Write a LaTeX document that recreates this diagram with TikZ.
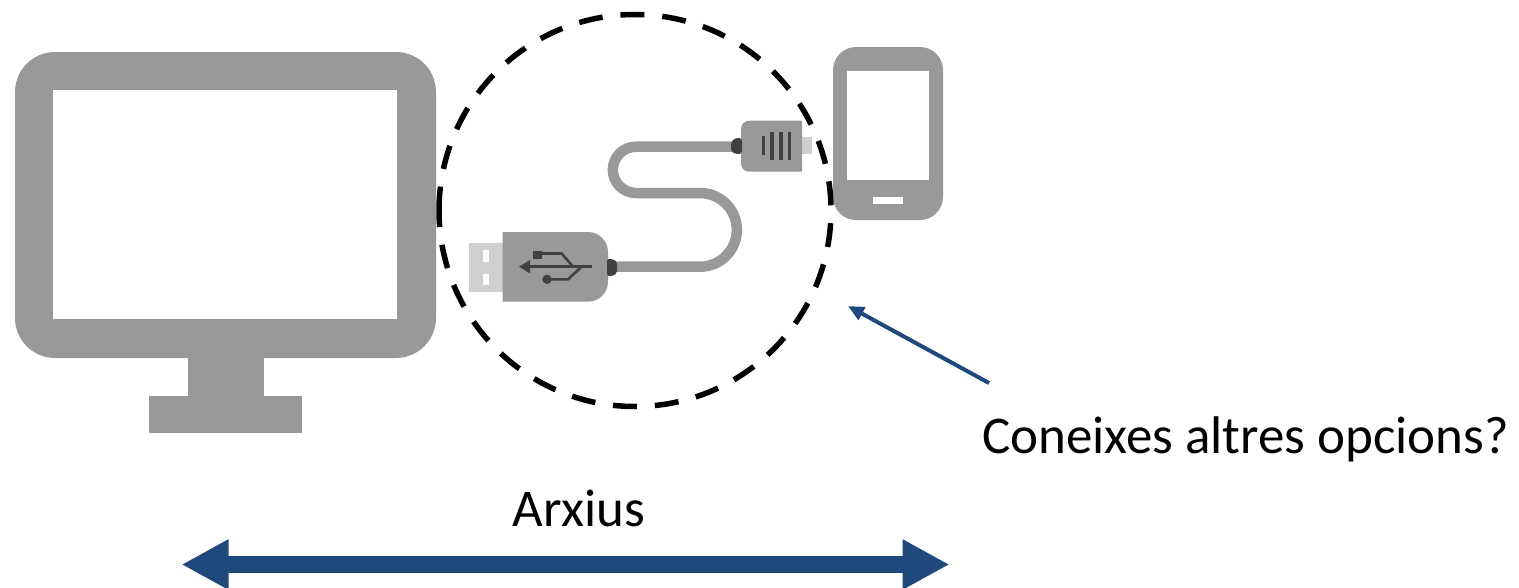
\documentclass[tikz,border=0pt]{standalone}
\usepackage{fontspec}
\setmainfont{Carlito}
\usetikzlibrary{arrows.meta}
\definecolor{devgray}{HTML}{999999}
\definecolor{plug}{HTML}{D0CFCD}
\definecolor{darkg}{HTML}{404040}
\definecolor{navy}{HTML}{1F497D}
\tikzset{
  device/.style={fill=devgray,draw=none},
  hole/.style={fill=white,draw=none},
  darkpart/.style={fill=darkg,draw=none},
  cable/.style={draw=devgray,line width=10.5pt},
  symline/.style={draw=darkg,line width=2.6pt},
  label/.style={font=\fontsize{53}{60}\selectfont,text=black,inner sep=0pt},
}
\begin{document}
\begin{tikzpicture}[x=1pt,y=-1pt]
\useasboundingbox (0,0) rectangle (1519,587);
% monitor
\fill[device] (188,350) rectangle (264,400);
\fill[device] (149,396) rectangle (302,433);
\fill[device,rounded corners=40pt] (15,52) rectangle (436,358);
\fill[hole] (53,90) rectangle (397,319);
% phone
\fill[device,rounded corners=23pt] (833,47) rectangle (943,220);
\fill[hole] (847,71) rectangle (929,180);
\fill[hole] (873,197) rectangle (903,204);
% cable
\draw[cable] (735,146.7) -- (636,146.7) arc[start angle=90,end angle=270,radius=23.15pt]
  -- (700,193) arc[start angle=90,end angle=-90,radius=36.85pt] -- (612,266.7);
% micro plug
\fill[plug] (800,137) rectangle (812,154);
\fill[device] (802,120.7) -- (749,120.7) arc[start angle=90,end angle=180,radius=8pt] -- (741,163.7) arc[start angle=180,end angle=270,radius=8pt] -- (802,171.7) -- cycle;
\fill[darkpart,rounded corners=3pt] (742,138) -- (735,138) -- (731,142) -- (731,151) -- (735,154) -- (742,154) -- cycle;
\fill[darkg] (761.5,136) rectangle (765,155);
\fill[darkg] (770,132) rectangle (774,160);
\fill[darkg] (779,132) rectangle (782.5,160);
\fill[darkg] (787.5,132) rectangle (791,160);
% usb plug
\fill[plug] (469,242.7) rectangle (505,291.7);
\fill[hole] (482.7,250) rectangle (489.3,261.7);
\fill[hole] (482.7,274) rectangle (489.3,285);
\fill[device] (502.7,232) -- (588,232) arc[start angle=90,end angle=0,radius=20pt] -- (608,281.7) arc[start angle=0,end angle=-90,radius=20pt] -- (502.7,301.7) -- cycle;
\fill[darkpart,rounded corners=2pt] (607,259) -- (613,259) -- (617,262) -- (617,273) -- (613,276) -- (607,276) -- cycle;
% usb symbol
\draw[symline] (525,266.7) -- (592,266.7);
\fill[darkg] (519,266.7) -- (530,260) -- (530,273.4) -- cycle;
\fill[darkg] (533,250.7) rectangle (542,259.3);
\draw[symline] (541,253.5) -- (561.7,253.5) -- (573,266.7);
\fill[darkg] (547,279.3) circle[radius=4.7pt];
\draw[symline] (547,279.3) -- (568,279.3) -- (581.7,266.7);
% dashed circle
\draw[black,line width=5.5pt,dash pattern=on 24pt off 17.9pt]
  (439,210.5) arc[start angle=180,end angle=-180,radius=196pt];
% labels
\node[label] (opcions) at (1245.5,439.5) {Coneixes altres opcions?};
\node[label] (arxius) at (579,508.5) {Arxius};
% arrows
\coordinate (tail) at (989,383);
\coordinate (head) at (848,306);
\draw[navy,line width=4pt,-{Triangle[length=16pt,width=14pt]}] (tail) -- (head);
\coordinate (left) at (181.5,564.5);
\coordinate (right) at (949.5,564.5);
\draw[navy,line width=17pt,{Triangle[length=47pt,width=47pt]}-{Triangle[length=47pt,width=47pt]}] (left) -- (right);
\end{tikzpicture}
\end{document}
